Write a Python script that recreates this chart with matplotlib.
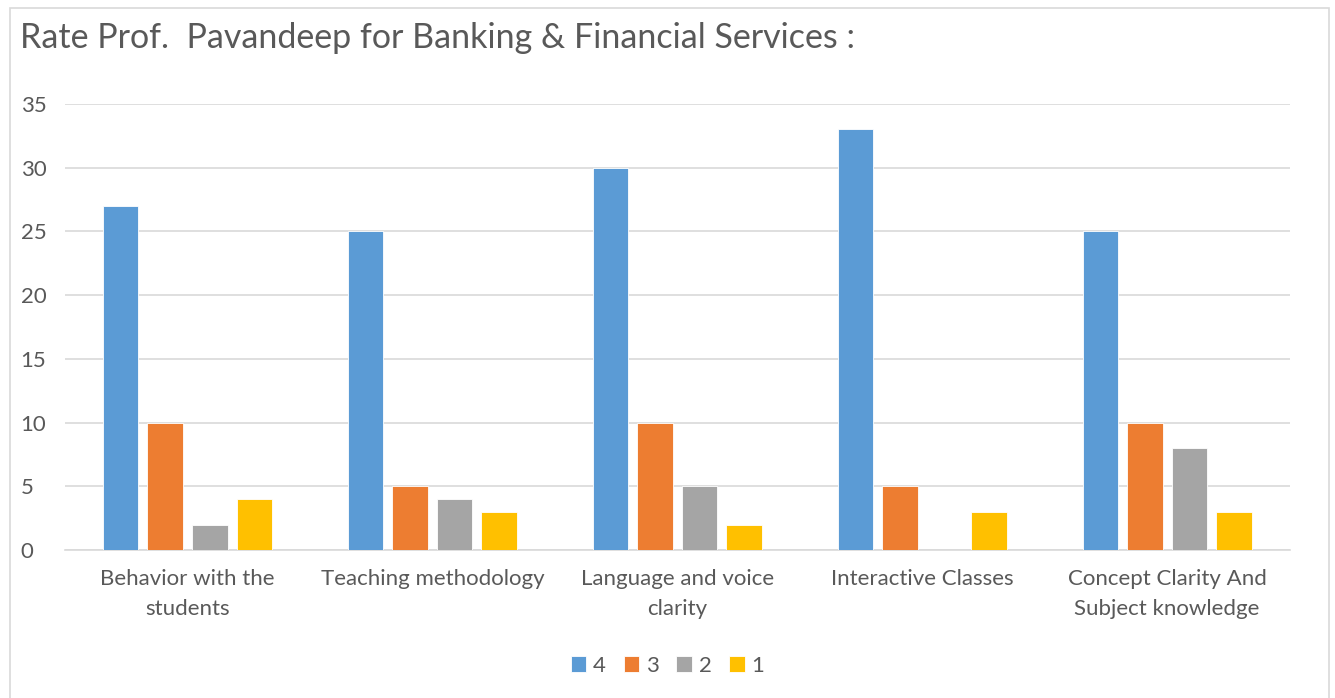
import matplotlib.pyplot as plt
import numpy as np
from matplotlib.patches import Rectangle

plt.rcParams['font.family'] = ['Lato', 'DejaVu Sans']

# data
categories = ['Behavior with the\nstudents', 'Teaching methodology',
              'Language and voice\nclarity', 'Interactive Classes',
              'Concept Clarity And\nSubject knowledge']
series_names = ['4', '3', '2', '1']
rating_4 = [27, 25, 30, 33, 25]
rating_3 = [10, 5, 10, 5, 10]
rating_2 = [2, 4, 5, 0, 8]
rating_1 = [4, 3, 2, 3, 3]
yticks = [0, 5, 10, 15, 20, 25, 30, 35]

colors = ['#5B9BD5', '#ED7D31', '#A5A5A5', '#FFC000']
text_col = '#595959'

fig = plt.figure(figsize=(13.35, 6.98), dpi=100)
ax = fig.add_axes([0.0487, 0.212, 0.9173, 0.639])

x = np.arange(len(categories))
step = 0.182
width = 0.145
all_series = [rating_4, rating_3, rating_2, rating_1]
for i, vals in enumerate(all_series):
    ax.bar(x + (i - 1.5) * step, vals, width, color=colors[i],
           edgecolor='white', linewidth=0.6, label=series_names[i], zorder=3)

ax.set_xlim(-0.5, len(categories) - 0.5)
ax.set_ylim(0, 35)
ax.set_yticks(yticks)
ax.grid(axis='y', color='#D9D9D9', linewidth=1.2, zorder=0)
for s in ['top', 'right', 'left']:
    ax.spines[s].set_visible(False)
ax.spines['bottom'].set_color('#D9D9D9')
ax.spines['bottom'].set_linewidth(1.2)
ax.tick_params(length=0, labelsize=16, colors=text_col)
ax.tick_params(axis='y', pad=32)
ax.tick_params(axis='x', pad=14)
ax.set_xticks(x)
ax.set_xticklabels(categories, linespacing=1.6)
for lab in ax.get_yticklabels():
    lab.set_horizontalalignment('left')

fig.text(0.015, 0.945, 'Rate Prof.  Pavandeep for Banking & Financial Services :',
         fontsize=24.5, color=text_col, va='center', ha='left')

fig.legend(loc='center', bbox_to_anchor=(0.5, 0.046), ncol=4, frameon=False,
           fontsize=16, handlelength=0.7, handleheight=0.7, handletextpad=0.3,
           columnspacing=0.8, labelcolor=text_col)

# chart frame
fig.patches.append(Rectangle((0.0075, -0.01), 0.988, 0.998, transform=fig.transFigure,
                             fill=False, edgecolor='#D9D9D9', linewidth=1.2))

fig.savefig('out.png', dpi=100)
